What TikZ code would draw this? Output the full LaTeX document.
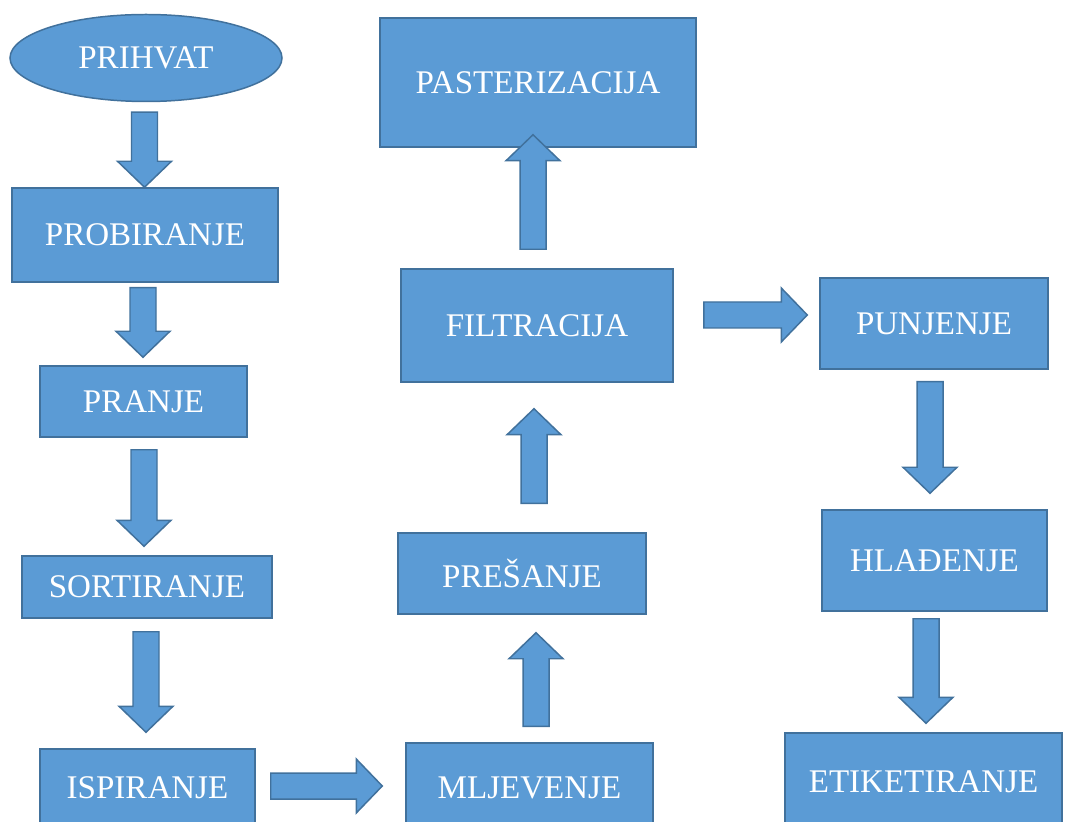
\documentclass[tikz,border=0pt]{standalone}
\usepackage{fontspec}
\setmainfont{Liberation Serif}
\usetikzlibrary{calc, shapes.geometric}
\definecolor{boxfill}{HTML}{5B9BD5}
\definecolor{boxline}{HTML}{41719C}

\tikzset{
  stage/.style={draw=boxline, fill=boxfill, line width=0.85pt, text=white,
    font=\fontsize{18.8}{22}\selectfont, inner sep=0pt},
  flowarrow/.style={draw=boxline, fill=boxfill, line width=0.85pt,
    to path={let \p3=($(\tikztotarget)!0.52cm!(\tikztostart)$) in
      ($(\tikztostart)!0.26cm!90:(\tikztotarget)$) -- ($(\p3)!0.26cm!90:(\tikztotarget)$)
      -- ($(\p3)!0.54cm!90:(\tikztotarget)$) -- (\tikztotarget)
      -- ($(\p3)!0.54cm!-90:(\tikztotarget)$) -- ($(\p3)!0.26cm!-90:(\tikztotarget)$)
      -- ($(\tikztostart)!0.26cm!-90:(\tikztotarget)$) -- cycle}}
}

\begin{document}
\begin{tikzpicture}
    \useasboundingbox (0,0) rectangle (21.34,16.42);
    \clip (0,0) rectangle (21.34,16.42);

    % Left column
    \node[stage, ellipse, minimum width=5.44cm, minimum height=1.74cm] (prihvat) at (2.92, 15.26) {PRIHVAT};
    \node[stage, minimum width=5.32cm, minimum height=1.88cm] (probiranje) at (2.90, 11.72) {PROBIRANJE};
    \node[stage, minimum width=4.14cm, minimum height=1.42cm] (pranje) at (2.87, 8.39) {PRANJE};
    \node[stage, minimum width=5.00cm, minimum height=1.24cm] (sortiranje) at (2.94, 4.68) {SORTIRANJE};
    \node[stage, minimum width=4.30cm, minimum height=1.56cm] (ispiranje) at (2.95, 0.66) {ISPIRANJE};

    % Middle column
    \node[stage, minimum width=4.94cm, minimum height=1.80cm] (mljevenje) at (10.59, 0.66) {MLJEVENJE};
    \node[stage, minimum width=4.96cm, minimum height=1.62cm] (presanje) at (10.44, 4.95) {PREŠANJE};
    \node[stage, minimum width=5.44cm, minimum height=2.26cm] (filtracija) at (10.74, 9.91) {FILTRACIJA};
    \node[stage, minimum width=6.32cm, minimum height=2.58cm] (pasterizacija) at (10.76, 14.77) {PASTERIZACIJA};

    % Right column
    \node[stage, minimum width=4.56cm, minimum height=1.82cm] (punjenje) at (18.68, 9.95) {PUNJENJE};
    \node[stage, minimum width=4.50cm, minimum height=2.02cm] (hladjenje) at (18.69, 5.21) {HLAĐENJE};
    \node[stage, minimum width=5.54cm, minimum height=1.96cm] (etiketiranje) at (18.47, 0.78) {ETIKETIRANJE};

    % Block arrows between stages
    \draw[flowarrow] ($(prihvat.south)+(-0.03,-0.2)$) to ($(probiranje.north)+(-0.01,0)$);
    \draw[flowarrow] ($(probiranje.south)+(-0.04,-0.1)$) to ($(pranje.north)+(-0.01,0.16)$);
    \draw[flowarrow] ($(pranje.south)+(0.01,-0.24)$) to ($(sortiranje.north)+(-0.06,0.18)$);
    \draw[flowarrow] ($(sortiranje.south)+(-0.02,-0.26)$) to ($(ispiranje.north)+(-0.03,0.32)$);
    \draw[flowarrow] ($(ispiranje.east)+(0.30,0.04)$) to ($(mljevenje.west)+(-0.46,0.04)$);
    \draw[flowarrow] ($(mljevenje.north)+(0.13,0.32)$) to ($(presanje.south)+(0.28,-0.36)$);
    \draw[flowarrow] ($(presanje.north)+(0.24,0.58)$) to ($(filtracija.south)+(-0.06,-0.52)$);
    \draw[flowarrow] ($(filtracija.north)+(-0.08,0.38)$) to ($(pasterizacija.south)+(-0.10,0.26)$);
    \draw[flowarrow] ($(filtracija.east)+(0.60,0.21)$) to ($(punjenje.west)+(-0.24,0.17)$);
    \draw[flowarrow] ($(punjenje.south)+(-0.08,-0.24)$) to ($(hladjenje.north)+(-0.09,0.32)$);
    \draw[flowarrow] ($(hladjenje.south)+(-0.17,-0.14)$) to ($(etiketiranje.north)+(0.05,0.18)$);
\end{tikzpicture}
\end{document}
